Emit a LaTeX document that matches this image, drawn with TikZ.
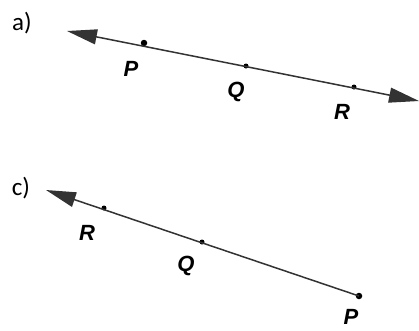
\documentclass[tikz,border=0pt]{standalone}
\usepackage{fontspec}
\setmainfont{Carlito}
\newfontfamily\ptfont{Liberation Sans}
\usetikzlibrary{arrows.meta}
\tikzset{
  tip/.tip={Triangle[length=30pt,width=15pt]},
  ln/.style={line width=1.5pt, draw=black!80, tip-tip},
  lnl/.style={line width=1.5pt, draw=black!80, tip-},
  pt/.style={circle, fill=black, inner sep=0pt, minimum size=5pt},
  bigpt/.style={circle, fill=black, inner sep=0pt, minimum size=6.5pt},
  lab/.style={font=\ptfont\bfseries\itshape\fontsize{22}{22}\selectfont, inner sep=0pt},
  part/.style={font=\fontsize{25}{25}\selectfont, inner sep=0pt}
}
\begin{document}
\begin{tikzpicture}[x=1pt,y=-1pt]
\useasboundingbox (0,0) rectangle (419,330);
% a)
\node[part] (la) at (22,23) {a)};
\coordinate (aL) at (67,31);
\coordinate (aR) at (419,101);
\node[bigpt] (aP) at (144,43) {};
\node[pt] (aQ) at (246,66) {};
\node[pt] (aR1) at (354,87) {};
\draw[ln] (aL) -- (aR);
\node[lab] (tP) at (131,69) {P};
\node[lab] (tQ) at (236,92) {Q};
\node[lab] (tR) at (342,112) {R};
% c)
\node[part] (lc) at (21,188) {c)};
\coordinate (cL) at (46,190);
\node[pt] (cR) at (104,208) {};
\node[pt] (cQ) at (202,242) {};
\node[bigpt] (cP) at (359,296) {};
\draw[lnl] (cL) -- (cP.center);
\node[lab] (sR) at (87,233) {R};
\node[lab] (sQ) at (186,266) {Q};
\node[lab] (sP) at (351,317) {P};
\end{tikzpicture}
\end{document}
